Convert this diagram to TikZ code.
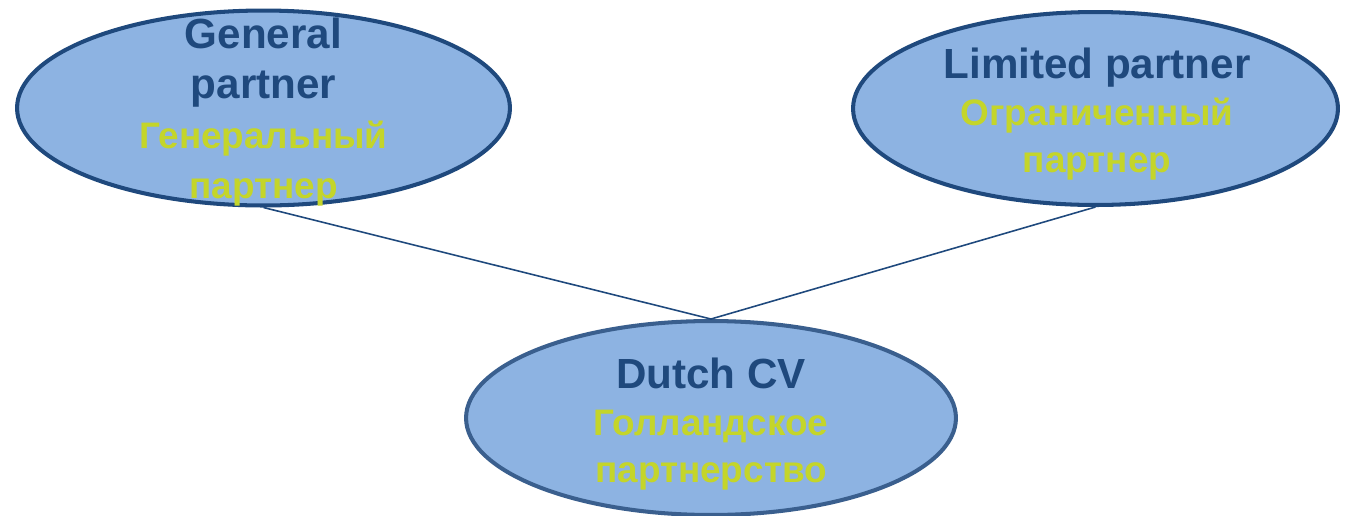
\documentclass[tikz,border=0pt]{standalone}
\usepackage{fontspec}
\setmainfont{Liberation Sans}
\usepackage{tikz}
\usetikzlibrary{shapes.geometric}

\definecolor{partnerfill}{HTML}{8DB3E2}
\definecolor{partnerline}{HTML}{1F497D}
\definecolor{cvline}{HTML}{3A5F8E}
\definecolor{rutext}{HTML}{C4D52A}

\newcommand{\rus}[1]{{\color{rutext}\fontsize{21}{\baselineskip}\selectfont #1}}

\begin{document}
\begin{tikzpicture}[
            x = 0.02cm, y = -0.02cm, % one unit is one pixel of the layout
            semithick % line style
        ]

        \tikzstyle{partner}=[
            ellipse,
            draw = partnerline,
            line width = 2.3pt,
            fill = partnerfill,
            inner sep = 0pt
        ]
        \tikzstyle{partnertext}=[
            align = center,
            inner sep = 0pt,
            text = partnerline,
            font = \bfseries\fontsize{24}{27}\selectfont
        ]

        \useasboundingbox (0,0) rectangle (1353,515);

	\node[partner, minimum width=9.86cm, minimum height=3.9cm] (gp) at (263.5,108) {};
	\node[partner, minimum width=9.7cm, minimum height=3.86cm] (lp) at (1095.5,108.5) {};
	\node[partner, draw=cvline, minimum width=9.8cm, minimum height=3.88cm] (cv) at (711,418) {};

	\node[partnertext, font=\bfseries\fontsize{24}{28.3}\selectfont] (gptext) at (263.5,112)
	    {General\\partner\\\rus{Генеральный}\\\rus{партнер}};
	\node[partnertext] (lptext) at (1097,114)
	    {Limited partner\\\rus{Ограниченный}\\\rus{партнер}};
	\node[partnertext] (cvtext) at (711,424)
	    {Dutch CV\\\rus{Голландское}\\\rus{партнерство}};

        \path[draw=partnerline, line width=0.9pt] (gp.south) edge (cv.north);
        \path[draw=partnerline, line width=0.9pt] (lp.south) edge (cv.north);

    \end{tikzpicture}
\end{document}
